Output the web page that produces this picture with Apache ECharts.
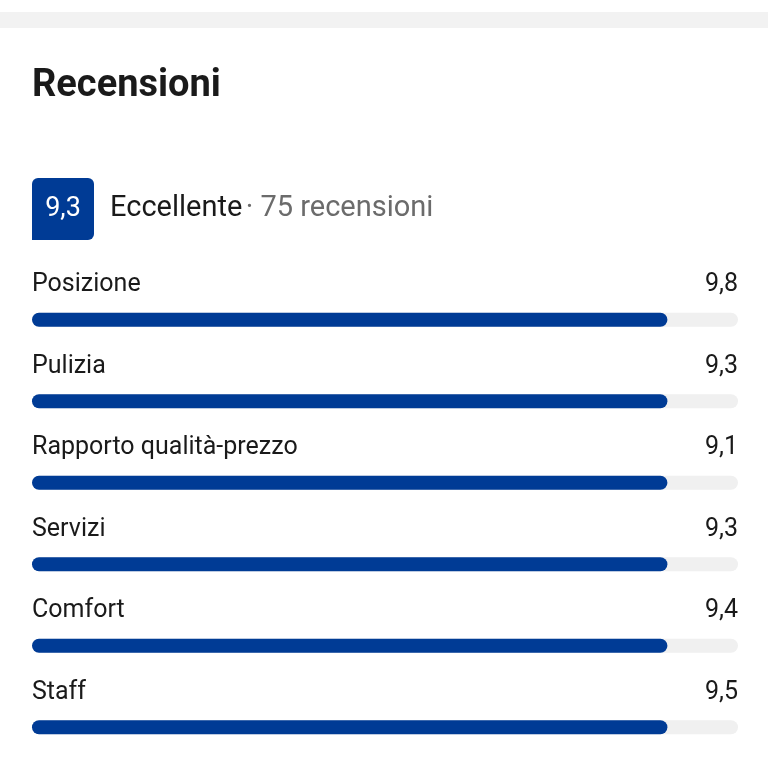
<!DOCTYPE html>
<html>
<head>
<meta charset="utf-8">
<script src="https://cdn.jsdelivr.net/npm/echarts@6/dist/echarts.min.js"></script>
<style>
  html, body { margin: 0; padding: 0; background: #fff; }
  #chart { width: 768px; height: 768px; }
</style>
</head>
<body>
<div id="chart"></div>
<script>
// review categories and the scores shown at the right
var categories = ["Posizione", "Pulizia", "Rapporto qualità-prezzo", "Servizi", "Comfort", "Staff"];
var scoreLabels = ["9,8", "9,3", "9,1", "9,3", "9,4", "9,5"];
// bar fill as drawn in the picture (all bars end at the same spot)
var barValues = [9, 9, 9, 9, 9, 9];
var maxScore = 10;

var chart = echarts.init(document.getElementById("chart"));
var font = "Roboto, 'Noto Sans', sans-serif";

chart.setOption({
    animation: false,
    grid: { left: 32, right: 30, top: 279, height: 564 },
    xAxis: { type: "value", min: 0, max: maxScore, show: false },
    yAxis: { type: "category", data: categories, inverse: true, show: false },
    graphic: [
        { type: "rect", shape: { x: 0, y: 12, width: 768, height: 16 }, style: { fill: "#f2f2f2" } },
        { type: "text", left: 32, top: 67, style: { text: "Recensioni", font: "bold 38px " + font, fill: "#1a1a1a" } },
        { type: "rect", shape: { x: 32, y: 178, width: 62, height: 62, r: [6, 6, 6, 0] }, style: { fill: "#003b95" } },
        { type: "text", x: 63, y: 209, style: { text: "9,3", font: "27px " + font, fill: "#fff", align: "center", verticalAlign: "middle" } },
        { type: "text", x: 110, y: 209, style: { text: "{a|Eccellente} {b|· 75 recensioni}", verticalAlign: "middle",
            rich: { a: { font: "29px " + font, fill: "#1a1a1a" }, b: { font: "29px " + font, fill: "#6b6b6b" } } } }
    ],
    series: [
        {
            type: "bar",
            data: categories.map(function () { return maxScore; }),
            barWidth: 14,
            itemStyle: { color: "#f0f0f0", borderRadius: 7 },
            label: {
                show: true, position: ["100%", -28], align: "right", verticalAlign: "middle",
                formatter: function (p) { return scoreLabels[p.dataIndex]; },
                fontSize: 25, fontFamily: font, color: "#1a1a1a"
            },
            silent: true
        },
        {
            type: "bar",
            data: barValues,
            barWidth: 14,
            barGap: "-100%",
            itemStyle: { color: "#003b95", borderRadius: 7 },
            label: {
                show: true, position: [0, -28], align: "left", verticalAlign: "middle",
                formatter: "{b}", fontSize: 25, fontFamily: font, color: "#1a1a1a"
            }
        }
    ]
});
</script>
</body>
</html>
